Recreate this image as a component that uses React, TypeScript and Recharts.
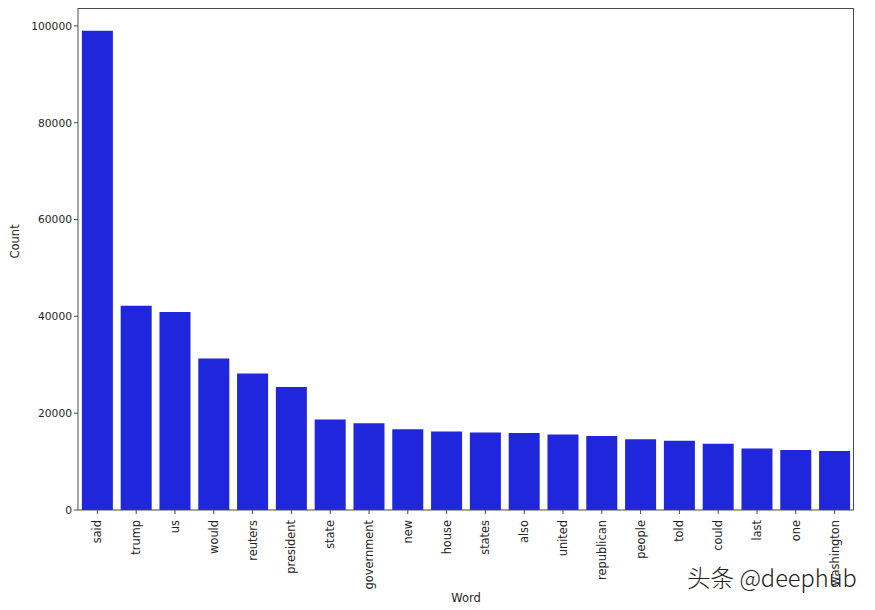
import React from "react";
import { BarChart, Bar, XAxis, YAxis, Label } from "recharts";

const words = ["said","trump","us","would","reuters","president","state","government","new","house","states","also","united","republican","people","told","could","last","one","washington"];
const counts = [99000,42200,40900,31300,28200,25400,18700,17900,16700,16200,16000,15900,15600,15300,14600,14300,13700,12700,12400,12200];
const yTicks = [0,20000,40000,60000,80000,100000];
const yTop = 103900;
const data = words.map((word, i) => ({ word, count: counts[i] }));
const FONT = "DejaVu Sans";
const INK = "#262626";
const FRAME = "#4a4a4a";

const XTick = (props: any) => {
  const { x, y, payload } = props;
  return (
    <text x={x} y={y} transform={`rotate(-90 ${x} ${y})`} dy={4} dx={-4} textAnchor="end" fontSize={11.4} fill={INK} fontFamily={FONT}>
      {payload.value}
    </text>
  );
};

export default function App() {
  return (
    <div style={{ position: "relative", width: 875, height: 610, margin: -8, background: "#fff", overflow: "hidden" }}>
      <BarChart width={875} height={610} data={data} margin={{ top: 7, right: 21, bottom: 1, left: 15 }} barCategoryGap="10%">
        <XAxis dataKey="word" interval={0} tick={<XTick />} tickSize={4} stroke={FRAME} height={99}>
          <Label value="Word" position="insideBottom" offset={7} fontSize={11.5} fill={INK} fontFamily={FONT} />
        </XAxis>
        <YAxis domain={[0, yTop]} ticks={yTicks} allowDataOverflow tickSize={4} stroke={FRAME} width={63} tick={{ fontSize: 10.7, fill: INK, fontFamily: FONT }}>
          <Label value="Count" angle={-90} position="insideLeft" offset={0} fontSize={11.5} fill={INK} fontFamily={FONT} />
        </YAxis>
        <Bar dataKey="count" fill="#1f26dc" isAnimationActive={false} />
      </BarChart>
      <div style={{ position: "absolute", left: 78, top: 8, width: 776, height: 1, background: FRAME, zIndex: 5, pointerEvents: "none" }} />
      <div style={{ position: "absolute", left: 853, top: 8, width: 1, height: 502, background: FRAME, pointerEvents: "none" }} />
      <div style={{ position: "absolute", left: 687, top: 560, fontSize: 23.6, color: "#222", whiteSpace: "nowrap", fontFamily: "'Noto Sans CJK SC'", fontWeight: 300 }}>头条 @deephub</div>
    </div>
  );
}
